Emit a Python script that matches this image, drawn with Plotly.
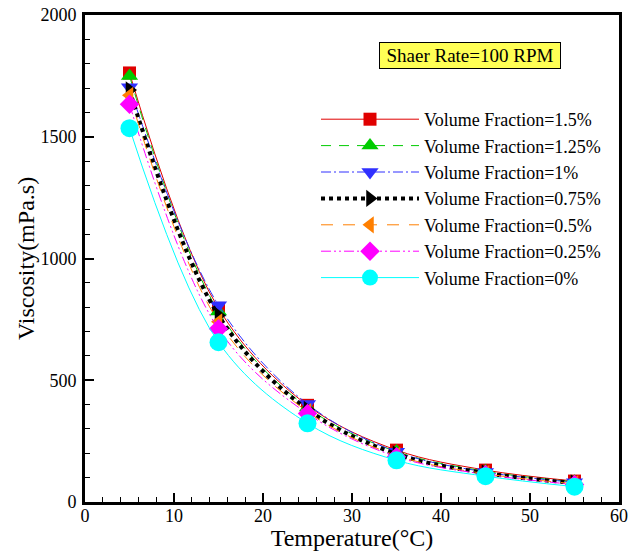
import plotly.graph_objects as go

temperature = [5, 15, 25, 35, 45, 55]

vf_1_5 = [1762, 795, 397, 213, 131, 86]
vf_1_25 = [1750, 782, 388, 207, 126, 83]
vf_1 = [1703, 808, 402, 206, 123, 81]
vf_0_75 = [1692, 766, 380, 197, 119, 78]
vf_0_5 = [1670, 740, 371, 191, 116, 75]
vf_0_25 = [1633, 711, 363, 186, 113, 72]
vf_0 = [1535, 656, 323, 171, 106, 63]

series_names = ["Volume Fraction=1.5%", "Volume Fraction=1.25%", "Volume Fraction=1%",
                "Volume Fraction=0.75%", "Volume Fraction=0.5%", "Volume Fraction=0.25%",
                "Volume Fraction=0%"]
series_values = [vf_1_5, vf_1_25, vf_1, vf_0_75, vf_0_5, vf_0_25, vf_0]
colors = ["#e00000", "#00cc00", "#3030ff", "#000000", "#ff7f00", "#ff00ff", "#00ffff"]
symbols = ["square", "triangle-up", "triangle-down", "triangle-right", "triangle-left", "diamond", "circle"]
sizes = [13, 15, 15, 15, 15, 15, 18]
dashes = ["solid", "10px,8px", "10px,3px,2px,3px", "4px,4px", "12px,10px",
          "10px,3px,2px,3px,2px,3px", "solid"]
widths = [1, 1, 1, 4, 1, 1, 1]

FONT = "Liberation Serif"

fig = go.Figure()
for name, vals, c, s, sz, d, w in zip(series_names, series_values, colors, symbols, sizes, dashes, widths):
    fig.add_trace(go.Scatter(
        x=temperature, y=vals, name=name, mode="lines+markers",
        line=dict(color=c, width=w, dash=d, shape="spline", smoothing=1.0),
        marker=dict(symbol=s, size=sz, color=c, line=dict(width=0)),
    ))

fig.update_layout(
    width=630, height=551,
    margin=dict(l=85, r=11, t=15, b=49),
    paper_bgcolor="white", plot_bgcolor="white",
    font=dict(family=FONT, size=18, color="black"),
    showlegend=True,
    legend=dict(x=(316 - 85) / 534, y=(502 - 101) / 487, xanchor="left", yanchor="top",
                bgcolor="rgba(0,0,0,0)", itemwidth=98,
                font=dict(family=FONT, size=18, color="black"),
                tracegroupgap=0),
    xaxis=dict(range=[0, 60], dtick=10, ticks="inside", ticklen=9, tickwidth=2,
               tickcolor="black", showline=True, linecolor="black", linewidth=3,
               mirror=True, showgrid=False, zeroline=False, automargin=False,
               ticklabelstandoff=-5,
               minor=dict(ticks="inside", dtick=2, ticklen=5, tickwidth=1, tickcolor="black"),
               title=dict(text="Temperature(°C)", font=dict(family=FONT, size=24), standoff=2),
               tickfont=dict(family=FONT, size=18)),
    yaxis=dict(range=[0, 2000], dtick=500, ticks="inside", ticklen=9, tickwidth=2,
               tickcolor="black", showline=True, linecolor="black", linewidth=3,
               mirror=True, showgrid=False, zeroline=False, automargin=False,
               ticklabelstandoff=2,
               minor=dict(ticks="inside", dtick=100, ticklen=5, tickwidth=1, tickcolor="black"),
               title=dict(text="Viscosity(mPa.s)", font=dict(family=FONT, size=24), standoff=0),
               tickfont=dict(family=FONT, size=18)),
)

fig.add_annotation(
    x=(470 - 85) / 534, y=(502 - 55.5) / 487, xref="paper", yref="paper",
    xanchor="center", yanchor="middle",
    text="Shaer Rate=100 RPM", showarrow=False,
    font=dict(family=FONT, size=19, color="black"),
    width=180, height=25,
    bgcolor="#ffff55", bordercolor="black", borderwidth=1, borderpad=0,
)

fig.write_html("out.html", config={"displayModeBar": False},
               post_script="document.body.style.margin='0';document.body.style.overflow='hidden';")
